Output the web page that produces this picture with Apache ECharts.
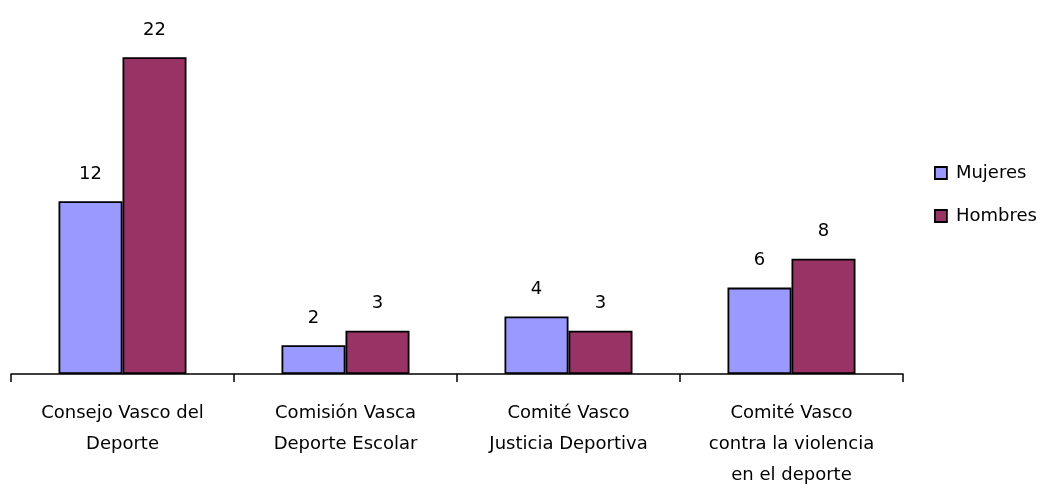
<!DOCTYPE html>
<html>
<head>
<meta charset="utf-8">
<script src="https://cdn.jsdelivr.net/npm/echarts@6/dist/echarts.min.js"></script>
<style>
  html, body { margin: 0; padding: 0; background: #fff; }
  #chart { width: 1051px; height: 497px; }
</style>
</head>
<body>
<div id="chart"></div>
<script>
const categories = [
  'Consejo Vasco del\nDeporte',
  'Comisión Vasca\nDeporte Escolar',
  'Comité Vasco\nJusticia Deportiva',
  'Comité Vasco\ncontra la violencia\nen el deporte'
]
const mujeres = [12, 2, 4, 6]
const hombres = [22, 3, 3, 8]

const font = 'DejaVu Sans'
const chart = echarts.init(document.getElementById('chart'))

const barStyle = (color) => ({
  color: color,
  borderColor: '#000',
  borderWidth: 1.8
})

const valueLabel = {
  show: true,
  position: 'top',
  distance: 18,
  color: '#000',
  fontFamily: font,
  fontSize: 18
}

chart.setOption({
  animation: false,
  textStyle: { fontFamily: font },
  grid: { left: 11, right: 148, top: 14, bottom: 123 },
  legend: {
    orient: 'vertical',
    left: 934,
    top: 164,
    padding: 0,
    itemWidth: 12,
    itemHeight: 12,
    itemGap: 25,
    icon: 'rect',
    textStyle: { fontFamily: font, fontSize: 18, color: '#000', padding: [0, 0, 0, 4] },
    data: [
      { name: 'Mujeres', itemStyle: { borderColor: '#000', borderWidth: 1.8 } },
      { name: 'Hombres', itemStyle: { borderColor: '#000', borderWidth: 1.8 } }
    ]
  },
  xAxis: {
    type: 'category',
    data: categories,
    axisLine: { lineStyle: { color: '#000', width: 1.5 } },
    axisTick: { show: true, length: 8, lineStyle: { color: '#000', width: 1.5 } },
    axisLabel: {
      color: '#000',
      fontFamily: font,
      fontSize: 18,
      lineHeight: 31,
      margin: 24
    }
  },
  yAxis: {
    type: 'value',
    min: 0,
    max: 25,
    show: false
  },
  series: [
    {
      name: 'Mujeres',
      type: 'bar',
      data: mujeres,
      barGap: '0%',
      barCategoryGap: '42.6%',
      itemStyle: barStyle('#9999FF'),
      label: valueLabel
    },
    {
      name: 'Hombres',
      type: 'bar',
      data: hombres,
      barGap: '0%',
      barCategoryGap: '42.6%',
      itemStyle: barStyle('#993366'),
      label: valueLabel
    }
  ]
})
</script>
</body>
</html>
